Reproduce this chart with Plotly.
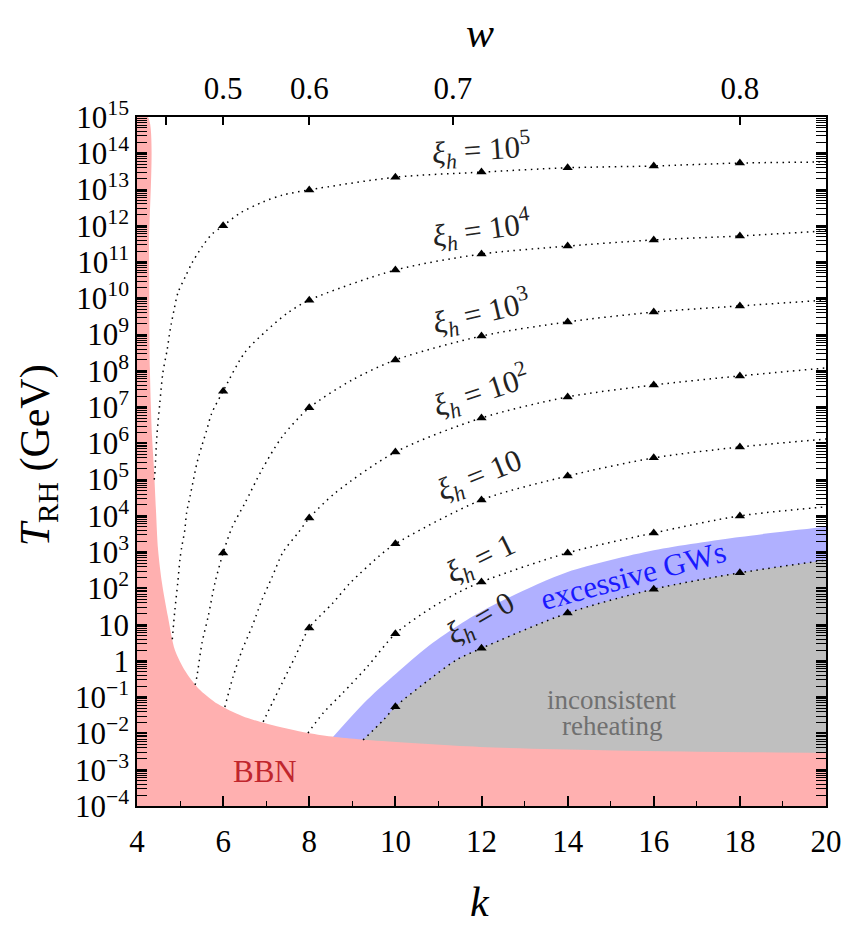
import plotly.graph_objects as go

# ---------------- data (k, log10 of T_RH in GeV) ----------------
K_MARKERS = [6, 8, 10, 12, 14, 16, 18]

K_XI5 = [4.40, 4.42, 4.46, 4.53, 4.60, 4.70, 4.77, 4.86, 4.95, 5.12, 5.28, 5.51, 5.74, 6, 6.39, 6.93, 7.39, 8, 10, 12, 14, 16, 18, 20]
LOG_XI5 = [5.0, 5.27, 6.18, 7.11, 7.94, 8.58, 9.13, 9.68, 10.15, 10.59, 10.98, 11.42, 11.77, 12.0, 12.35, 12.66, 12.85, 12.99, 13.34, 13.48, 13.60, 13.65, 13.73, 13.76]

K_XI4 = [4.82, 4.88, 4.945, 5.0, 5.04, 5.11, 5.15, 5.23, 5.31, 5.39, 5.50, 5.62, 5.735, 6, 6.5, 7, 7.5, 8, 10, 12, 14, 16, 18, 20]
LOG_XI4 = [0.6, 1.41, 2.14, 2.83, 3.15, 3.61, 4.07, 4.53, 4.99, 5.45, 5.91, 6.37, 6.83, 7.44, 8.5, 9.1, 9.6, 9.95, 10.78, 11.22, 11.44, 11.61, 11.72, 11.86]

K_XI3 = [5.35, 5.39, 5.51, 5.65, 5.81, 6, 6.21, 6.51, 6.90, 7.37, 8, 9, 10, 12, 14, 16, 18, 20]
LOG_XI3 = [-0.66, -0.44, 0.50, 1.21, 2.15, 2.98, 3.69, 4.36, 5.27, 6.18, 6.98, 7.75, 8.30, 8.96, 9.35, 9.62, 9.79, 9.95]

K_XI2 = [6.04, 6.23, 6.44, 6.67, 6.90, 7.14, 7.39, 7.74, 8, 8.6, 10, 12, 14, 16, 18, 20]
LOG_XI2 = [-1.27, -0.44, 0.30, 0.94, 1.68, 2.32, 3.00, 3.53, 3.94, 4.63, 5.76, 6.70, 7.28, 7.61, 7.86, 8.08]

K_XI1 = [6.93, 7.14, 7.37, 7.67, 8, 8.55, 8.95, 9.71, 10, 12, 14, 16, 18, 20]
LOG_XI1 = [-1.68, -1.16, -0.61, 0.11, 0.91, 1.60, 2.15, 2.98, 3.23, 4.44, 5.10, 5.60, 5.90, 6.12]

K_XI_1 = [7.97, 8.32, 8.78, 9.34, 10, 10.87, 11.43, 12, 14, 16, 18, 20]
LOG_XI_1 = [-1.99, -1.44, -0.88, -0.17, 0.75, 1.49, 1.87, 2.18, 2.98, 3.53, 4.0, 4.25]

K_XI0 = [9.25, 9.72, 10, 10.88, 11.42, 12, 14, 16, 18, 20]
LOG_XI0 = [-2.18, -1.63, -1.26, -0.43, 0.03, 0.35, 1.32, 1.98, 2.43, 2.78]

K_GW = [8.55, 9.34, 10.11, 10.87, 11.66, 12.43, 14, 16, 18, 20]
LOG_GW = [-2.10, -1.08, -0.25, 0.50, 1.13, 1.63, 2.45, 3.05, 3.42, 3.70]

K_BBN = [4, 4.25, 4.28, 4.30, 4.35, 4.395, 4.44, 4.49, 4.58, 4.72, 4.88, 5.12, 5.42, 5.88, 6.44, 7.04, 7.97, 8.60, 9.34, 11.97, 14.82, 20]
LOG_BBN = [15, 15, 11.33, 8.02, 6.18, 5.27, 4.16, 3.06, 2.15, 1.21, 0.30, -0.28, -0.75, -1.19, -1.52, -1.74, -1.99, -2.10, -2.18, -2.37, -2.46, -2.54]

CURVES = [
    (K_XI5, LOG_XI5), (K_XI4, LOG_XI4), (K_XI3, LOG_XI3), (K_XI2, LOG_XI2),
    (K_XI1, LOG_XI1), (K_XI_1, LOG_XI_1), (K_XI0, LOG_XI0),
]

X_TICKS = [4, 6, 8, 10, 12, 14, 16, 18, 20]
X_MINOR = [5, 7, 9, 11, 13, 15, 17, 19]
W_TICKS = [0.4, 0.5, 0.6, 0.7, 0.8]
W_LABELS = ["", "0.5", "0.6", "0.7", "0.8"]
Y_EXP = list(range(-4, 16))

# curve labels: (xi text, k, log10 T, angle)
LABELS = [
    ("10<sup>5</sup>", 11.99, 14.09, -4),
    ("10<sup>4</sup>", 11.99, 11.89, -8),
    ("10<sup>3</sup>", 11.99, 9.60, -13),
    ("10<sup>2</sup>", 11.99, 7.42, -18),
    ("10", 11.97, 5.07, -22),
    ("1", 12.01, 2.78, -26),
    ("0", 11.99, 1.13, -30),
]

FONT = "Liberation Serif"
PINK = "#ffb0b0"
BLUE = "#b0b0ff"
GRAY = "#bfbfbf"
FS = 31


def T(logs):
    return [10.0 ** v for v in logs]


fig = go.Figure()


def band(kx, logs, color, kmin, kmax):
    fig.add_trace(go.Scatter(x=[kmin, kmax], y=[1e-4, 1e-4], mode="lines",
                             line=dict(width=0), hoverinfo="skip", showlegend=False))
    fig.add_trace(go.Scatter(x=kx, y=T(logs), mode="lines", fill="tonexty",
                             fillcolor=color, line=dict(width=0, shape="spline", smoothing=0.8),
                             hoverinfo="skip", showlegend=False))


band(K_GW, LOG_GW, BLUE, K_GW[0], 20)
band(K_XI0, LOG_XI0, GRAY, K_XI0[0], 20)
band(K_BBN, LOG_BBN, PINK, 4, 20)

for kx, logs in CURVES:
    fig.add_trace(go.Scatter(x=kx, y=T(logs), mode="lines",
                             line=dict(color="black", width=1.5, dash="1.5px,4.5px",
                                       shape="spline", smoothing=0.8),
                             hoverinfo="skip", showlegend=False))
    mk = [k for k in kx if k in K_MARKERS]
    mv = [10.0 ** l for k, l in zip(kx, logs) if k in K_MARKERS]
    fig.add_trace(go.Scatter(x=mk, y=mv, mode="markers",
                             marker=dict(symbol="triangle-up", size=9, color="black"),
                             hoverinfo="skip", showlegend=False))

# invisible trace so the top (w) axis is drawn
w_k = [2 * (1 + w) / (1 - w) for w in W_TICKS]
fig.add_trace(go.Scatter(x=[4, 20], y=[1, 1], xaxis="x2", mode="markers",
                         marker=dict(opacity=0), hoverinfo="skip", showlegend=False))

ann = []
for txt, kx, ly, ang in LABELS:
    ann.append(dict(x=kx, y=ly, xref="x", yref="y", showarrow=False, textangle=ang,
                    text="<i>ξ</i><sub><i>h</i></sub> = " + txt,
                    font=dict(family=FONT, size=FS, color="#222")))
ann.append(dict(x=15.52, y=2.37, xref="x", yref="y", showarrow=False, textangle=-15,
                text="excessive GWs", font=dict(family=FONT, size=FS, color="#1a1aff")))
ann.append(dict(x=15.03, y=-1.08, xref="x", yref="y", showarrow=False,
                text="inconsistent", font=dict(family=FONT, size=27, color="#707070")))
ann.append(dict(x=15.03, y=-1.80, xref="x", yref="y", showarrow=False,
                text="reheating", font=dict(family=FONT, size=27, color="#707070")))
ann.append(dict(x=6.97, y=-3.06, xref="x", yref="y", showarrow=False,
                text="BBN", font=dict(family=FONT, size=FS, color="#c0262d")))
ann.append(dict(x=0.498, y=-0.14, xref="paper", yref="paper", showarrow=False,
                xanchor="center", yanchor="middle",
                text="<i>k</i>", font=dict(family=FONT, size=42, color="black")))
ann.append(dict(x=0.498, y=1.122, xref="paper", yref="paper", showarrow=False,
                xanchor="center", yanchor="middle",
                text="<i>w</i>", font=dict(family=FONT, size=42, color="black")))
ann.append(dict(x=-0.1437, y=0.509, xref="paper", yref="paper", showarrow=False, textangle=-90,
                xanchor="center", yanchor="middle",
                text="<i>T</i><sub>RH</sub> (GeV)", font=dict(family=FONT, size=42, color="black")))


def ylab(e):
    if e == 0:
        return "1"
    if e == 1:
        return "10"
    return "10<sup>" + str(e).replace("-", "−") + "</sup>"


minor_vals = [m * 10.0 ** e for e in range(-4, 15) for m in range(2, 10)]

fig.update_layout(
    width=845, height=918,
    margin=dict(l=129, r=27, t=109, b=120, autoexpand=False),
    paper_bgcolor="white", plot_bgcolor="white",
    font=dict(family=FONT, size=FS, color="black"),
    annotations=ann,
    xaxis=dict(range=[4, 20], tickvals=X_TICKS, ticks="inside", ticklen=10, tickwidth=1.5,
               tickcolor="black", showline=True, linecolor="black", linewidth=1.5,
               showgrid=False, zeroline=False, tickfont=dict(size=FS), automargin=False,
               ticklabelstandoff=7,
               minor=dict(tickvals=X_MINOR, ticks="inside", ticklen=5,
                          tickwidth=1.2, tickcolor="black")),
    xaxis2=dict(range=[4, 20], overlaying="x", side="top", tickvals=w_k, ticktext=W_LABELS,
                ticks="inside", ticklen=8, tickwidth=1.5, tickcolor="black", showline=True,
                linecolor="black", linewidth=1.5, showgrid=False, zeroline=False,
                tickfont=dict(size=FS), automargin=False, ticklabelstandoff=4),
    yaxis=dict(type="log", range=[-4, 15], tickvals=[10.0 ** e for e in Y_EXP],
               ticktext=[ylab(e) for e in Y_EXP], ticks="inside", ticklen=10, tickwidth=1.5,
               tickcolor="black", showline=True, linecolor="black", linewidth=1.5,
               mirror="allticks", showgrid=False, zeroline=False, tickfont=dict(size=FS),
               automargin=False,
               minor=dict(tickvals=minor_vals, ticks="inside", ticklen=5, tickwidth=1,
                          tickcolor="black")),
)

fig.write_html("out.html")
